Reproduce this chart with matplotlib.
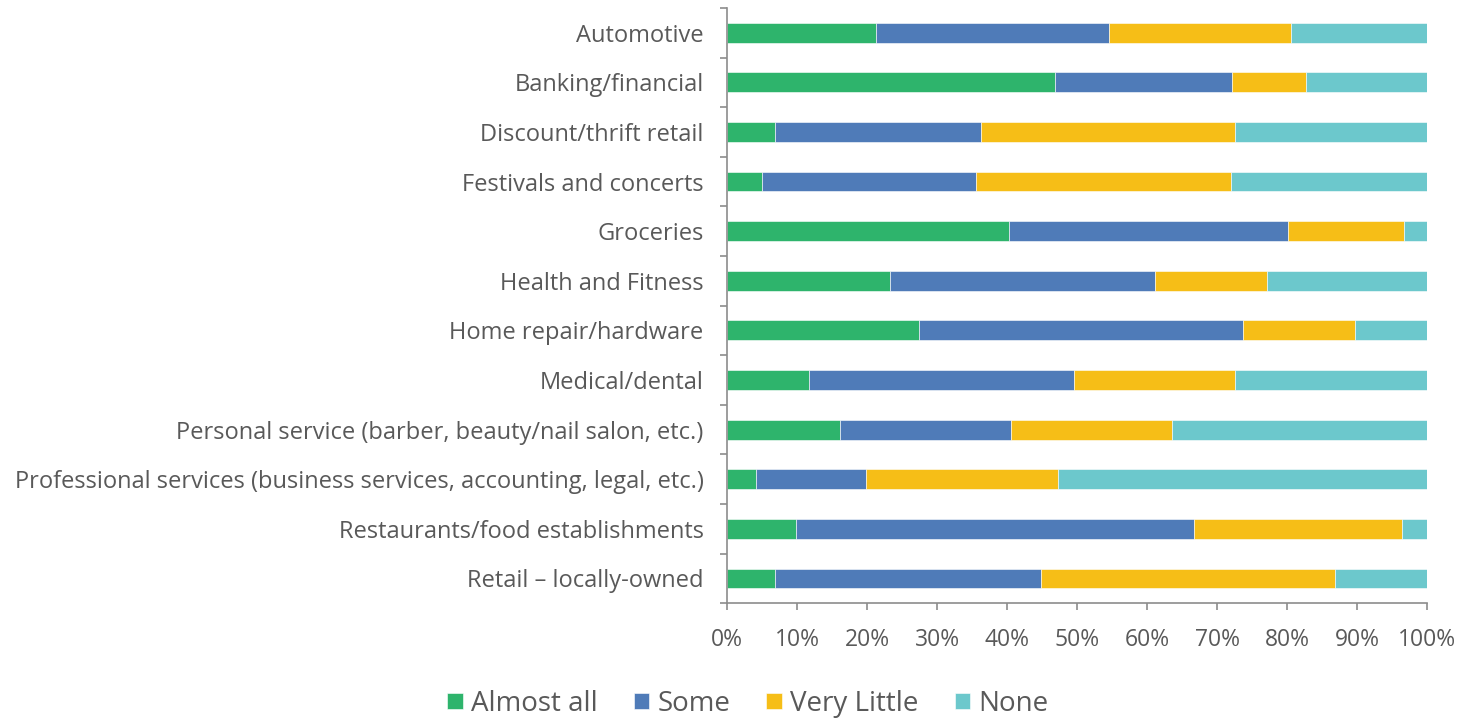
import numpy as np
import matplotlib.pyplot as plt
from matplotlib.ticker import FixedLocator, PercentFormatter

plt.rcParams['font.family'] = ['Open Sans', 'DejaVu Sans']

# Categories from top to bottom
categories = [
    'Automotive',
    'Banking/financial',
    'Discount/thrift retail',
    'Festivals and concerts',
    'Groceries',
    'Health and Fitness',
    'Home repair/hardware',
    'Medical/dental',
    'Personal service (barber, beauty/nail salon, etc.)',
    'Professional services (business services, accounting, legal, etc.)',
    'Restaurants/food establishments',
    'Retail \u2013 locally-owned',
]

# Shares in percent
almost_all = [21.3, 46.8, 6.8, 5.0, 40.3, 23.3, 27.4, 11.7, 16.1, 4.1, 9.9, 6.8]
some = [33.2, 25.3, 29.4, 30.6, 39.8, 37.9, 46.3, 37.8, 24.4, 15.7, 56.8, 38.1]
very_little = [26.0, 10.6, 36.4, 36.4, 16.6, 16.0, 16.0, 23.1, 23.0, 27.5, 29.7, 41.9]
none = [19.5, 17.3, 27.4, 28.0, 3.3, 22.8, 10.3, 27.4, 36.5, 52.7, 3.6, 13.2]

series = [
    ('Almost all', almost_all, '#2eb46c'),
    ('Some', some, '#4f7bb8'),
    ('Very Little', very_little, '#f6be17'),
    ('None', none, '#6cc8cc'),
]

text_color = '#595959'
axis_color = '#8c8c8c'

fig = plt.figure(figsize=(14.78, 7.19), dpi=100)
ax = fig.add_axes([0.492, 0.161, 0.4735, 0.828])

y = np.arange(len(categories))
left = np.zeros(len(categories))
for name, vals, color in series:
    vals = np.array(vals)
    ax.barh(y, vals, left=left, height=0.4, color=color, label=name,
            edgecolor='white', linewidth=0.4)
    left += vals

ax.set_xlim(0, 100)
ax.set_ylim(len(categories) - 0.5, -0.5)

ax.set_xticks(np.arange(0, 101, 10))
ax.xaxis.set_major_formatter(PercentFormatter(decimals=0))
ax.set_yticks(y)
ax.set_yticklabels(categories)
ax.yaxis.set_minor_locator(FixedLocator(np.arange(-0.5, len(categories), 1)))

ax.tick_params(axis='y', which='major', length=0, pad=17, labelsize=17,
               labelcolor=text_color)
ax.tick_params(axis='y', which='minor', length=5, color=axis_color, width=1.2)
ax.tick_params(axis='x', which='major', length=5, color=axis_color, width=1.2,
               labelsize=16.5, labelcolor=text_color, pad=13)

for side in ['top', 'right']:
    ax.spines[side].set_visible(False)
for side in ['left', 'bottom']:
    ax.spines[side].set_color(axis_color)
    ax.spines[side].set_linewidth(1.2)

fig.legend(loc='lower center', bbox_to_anchor=(0.506, -0.033), ncol=4, frameon=False,
           fontsize=20, labelcolor=text_color, handlelength=0.55, handleheight=0.55,
           handletextpad=0.3, columnspacing=1.3)

fig.savefig('out.png', dpi=100)
